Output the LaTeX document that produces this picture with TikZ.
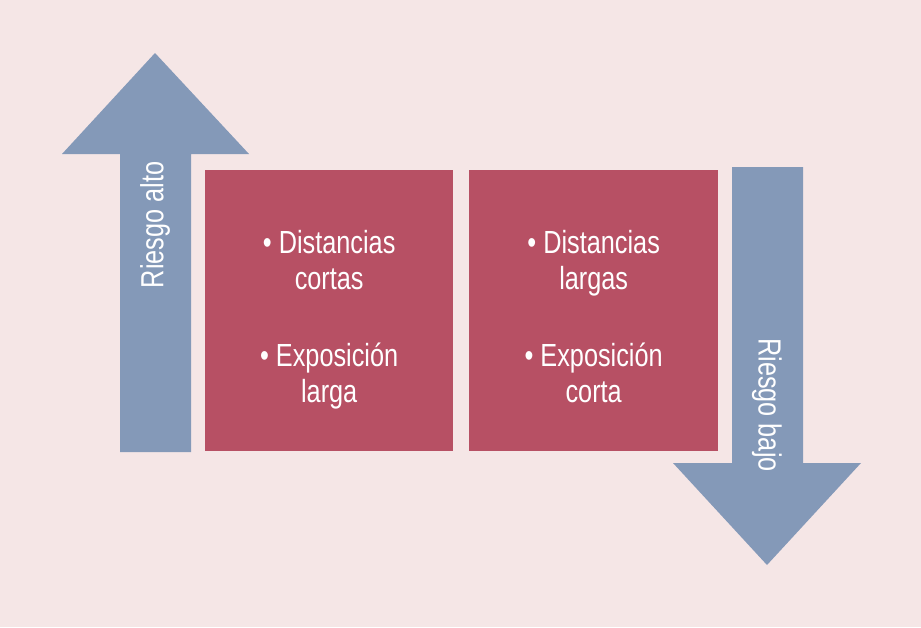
\documentclass[tikz,border=0pt]{standalone}
\usepackage{fontspec}
\setmainfont[FakeStretch=0.79]{Liberation Sans}
\definecolor{bg}{HTML}{F5E6E6}
\definecolor{boxred}{HTML}{B75064}
\definecolor{arrowblue}{HTML}{8499B8}
\begin{document}
\begin{tikzpicture}[x=1pt,y=-1pt,
  panel/.style={fill=boxred,draw=none},
  arrowshape/.style={fill=arrowblue,draw=none},
  panetext/.style={text=white,align=center,font=\fontsize{32}{36}\selectfont,inner sep=0pt},
  arrowtext/.style={text=white,font=\fontsize{32}{36}\selectfont,inner sep=0pt}]
\fill[bg] (0,0) rectangle (921,627);
\useasboundingbox (0,0) rectangle (921,627);
% left up arrow
\fill[arrowshape] (120,452) -- (120,154) -- (62,154) -- (155,53) -- (249,154) -- (191,154) -- (191,452) -- cycle;
% right down arrow
\fill[arrowshape] (732,167) -- (803,167) -- (803,463) -- (861,463) -- (767,565) -- (673,463) -- (732,463) -- cycle;
% panels
\node[panel,minimum width=248pt,minimum height=281pt,anchor=north west,inner sep=0pt] (boxL) at (205,170) {};
\node[panel,minimum width=249pt,minimum height=281pt,anchor=north west,inner sep=0pt] (boxR) at (469,170) {};
\node[panetext] (txtL) at ([yshift=-10pt]boxL.center) {\strut• Distancias\\cortas\\[41pt]• Exposición\\larga\strut};
\node[panetext] (txtR) at ([yshift=-10pt]boxR.center) {\strut• Distancias\\largas\\[41pt]• Exposición\\corta\strut};
\node[arrowtext,rotate=90] (alto) at (155,225) {Riesgo alto};
\node[arrowtext,rotate=-90] (bajo) at (767,405) {Riesgo bajo};
\end{tikzpicture}
\end{document}
